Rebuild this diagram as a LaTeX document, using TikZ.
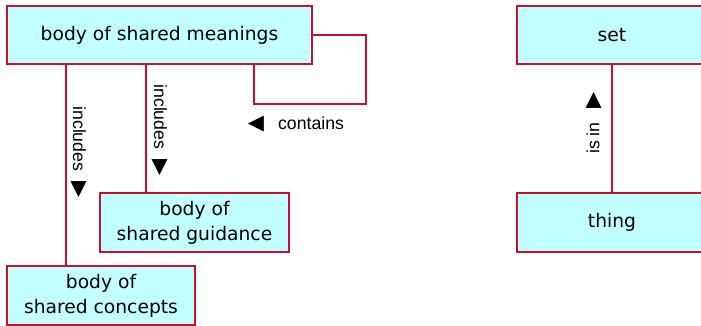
\documentclass[tikz,border=0pt]{standalone}
\usepackage{fontspec}
\setmainfont{DejaVu Sans}
\newfontfamily\labfont{Liberation Sans}
\newfontfamily\symfont{DejaVu Sans}
\definecolor{edgecol}{RGB}{200,16,46}
\definecolor{boxfill}{RGB}{194,255,255}
\newcommand{\tri}[1]{{\symfont\fontsize{21}{21}\selectfont #1}}
\begin{document}
\begin{tikzpicture}[x=1pt,y=1pt,
  conceptbox/.style={draw=edgecol, fill=boxfill, line width=2pt, inner sep=0pt,
    align=center, font=\fontsize{18.7}{25}\selectfont},
  conn/.style={draw=edgecol, line width=2pt},
  lab/.style={inner sep=0pt, font=\labfont\fontsize{17.7}{20}\selectfont}]
\useasboundingbox (0,0) rectangle (701,326);
\node[conceptbox, minimum width=305, minimum height=58] (meanings) at (159.5,291) {body of shared meanings};
\node[conceptbox, minimum width=189, minimum height=59] (guidance) at (194.5,103.5) {body of\\shared guidance};
\node[conceptbox, minimum width=188, minimum height=59] (concepts) at (101,30.5) {body of\\shared concepts};
\node[conceptbox, minimum width=190, minimum height=58] (set) at (612,291) {set};
\node[conceptbox, minimum width=190, minimum height=59] (thing) at (612,103.5) {thing};
\coordinate (lx) at (65.5,0);
\coordinate (mx) at (146,0);
\coordinate (cr) at (366,222);
\coordinate (cl) at (254,222);
\draw[conn] (meanings.south -| lx) -- (concepts.north -| lx);
\draw[conn] (meanings.south -| mx) -- (guidance.north -| mx);
\draw[conn] (meanings.east) -- (meanings.east -| cr) -- (cr) -- (cl) -- (meanings.south -| cl);
\draw[conn] (set.south) -- (thing.north);
\node[lab, rotate=-90] (l1) at (78.5,174) {includes\hspace{10pt}\tri{▶}};
\node[lab, rotate=-90] (l2) at (159.5,196) {includes\hspace{10pt}\tri{▶}};
\node[lab] (l3) at (296,202) {\tri{◀}\hspace{14pt}contains};
\node[lab, rotate=90] (l4) at (594,203) {is in\hspace{14pt}\tri{▶}};
\end{tikzpicture}
\end{document}
